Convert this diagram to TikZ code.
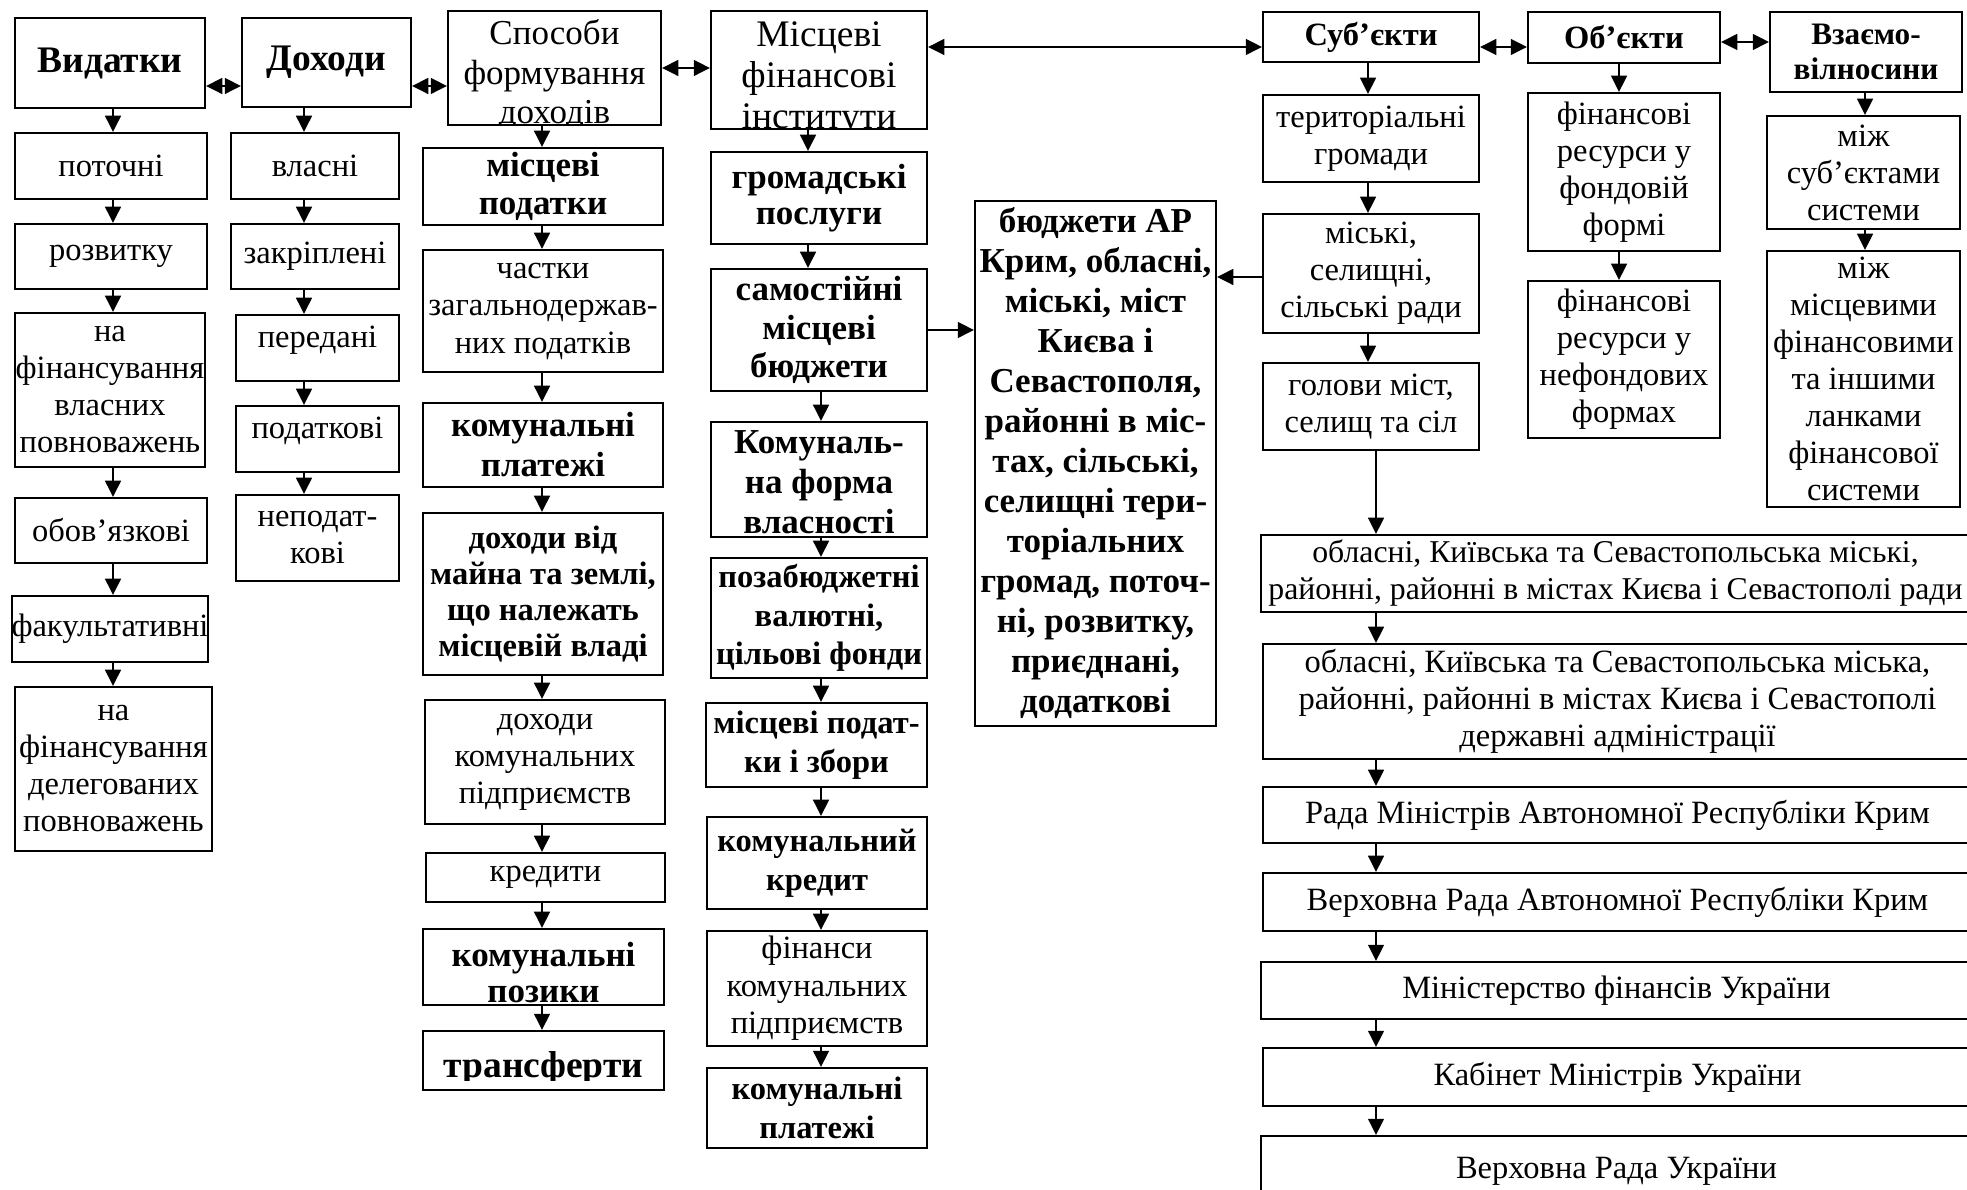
\documentclass[tikz,border=0pt]{standalone}
\usepackage{fontspec}
\setmainfont{Liberation Serif}
\usetikzlibrary{arrows.meta}

\begin{document}
\begin{tikzpicture}[x=0.4pt, y=-0.4pt, >={Triangle[length=6.5pt,width=6.3pt]},
	box/.style={draw, thick, inner sep=0pt, align=center, font=\fontsize{13}{14.8}\selectfont},
	wh/.style 2 args={minimum width={#1*0.4pt}, minimum height={#2*0.4pt}},
	rg/.style 2 args={font=\fontsize{#1}{#2}\selectfont},
	bd/.style 2 args={font=\fontsize{#1}{#2}\selectfont\bfseries},
	ptext/.style={inner sep=0pt, minimum width=0pt, minimum height=0pt, align=center},
	onebase/.style={text height=0pt, text depth=0pt}]
	\useasboundingbox (0,0) rectangle (1967,1190);
	\clip (0,0) rectangle (1967,1190);

	% arrow columns and rows
	\coordinate (k1) at (113,0);
	\coordinate (k2) at (304,0);
	\coordinate (k3) at (542,0);
	\coordinate (k4a) at (808,0);
	\coordinate (k4) at (821,0);
	\coordinate (k6) at (1368,0);
	\coordinate (k6b) at (1376,0);
	\coordinate (k7) at (1619,0);
	\coordinate (k8) at (1865,0);
	\coordinate (yd) at (0,86);
	\coordinate (ys) at (0,47);
	\coordinate (yv) at (0,42);
	\coordinate (yr) at (0,277);

	% expenditures
	\node[box, wh={190}{90}, bd={15}{17}] (vyd) at (110,63) {Видатки};
	\node[box, wh={192}{66}] (potochni) at (111,166) {поточні};
	\node[box, wh={192}{65}] (rozv) at (111,256.5) {розвитку};
	\node[box, wh={190}{154}] (vlpov) at (110,390) {на\\фінансування\\власних\\повноважень};
	\node[box, wh={192}{65}] (oboviaz) at (111,530.5) {обов’язкові};
	\node[box, wh={190}{66}] (fakult) at (110,629) {факультативні};
	\node[box, wh={197}{164}] (delpov) at (113.5,769) {на\\фінансування\\делегованих\\повноважень};

	% revenues
	\node[box, wh={169}{89}, bd={15}{17}] (dokh) at (326.5,62.5) {Доходи};
	\node[box, wh={168}{66}] (vlasni) at (315,166) {власні};
	\node[box, wh={168}{65}] (zakrip) at (315,256.5) {закріплені};
	\node[box, wh={163}{66}, onebase] (peredani) at (317.5,348) {передані};
	\node[box, wh={163}{66}, onebase] (podatk) at (317.5,439) {податкові};
	\node[box, wh={163}{86}] (nepodatk) at (317.5,538) {неподат-\\кові};

	% ways of forming revenues
	\node[box, wh={213}{114}, path picture={\node[ptext, rg={14}{15.8}] at ([yshift=-2.9pt]path picture bounding box.center) {Способи\\формування\\доходів};}] (sposoby) at (554.5,68) {};
	\node[box, wh={240}{77}, bd={14}{15.3}] (mpod) at (543,186.5) {місцеві\\податки};
	\node[box, wh={240}{122}, rg={13}{15}] (chastky) at (543,311) {частки\\загальнодержав-\\них податків};
	\node[box, wh={240}{84}, bd={14}{16}] (kplat) at (543,445) {комунальні\\платежі};
	\node[box, wh={240}{162}, bd={13}{14.5}] (maino) at (543,594) {доходи від\\майна та землі,\\що належать\\місцевій владі};
	\node[box, wh={240}{124}] (dkp) at (545,762) {доходи\\комунальних\\підприємств};
	\node[box, wh={239}{49}] (kred) at (545.5,877.5) {кредити};
	\node[box, wh={241}{76}, path picture={\node[ptext, bd={14}{14.4}] at ([yshift=-2.4pt]path picture bounding box.center) {комунальні\\позики};}] (pozyky) at (543.5,967) {};
	\node[box, wh={241}{59}, path picture={\clip (path picture bounding box.north west) rectangle ([yshift=4pt]path picture bounding box.south east);
		\node[ptext, bd={15}{17}] at ([yshift=-3.1pt]path picture bounding box.center) {трансферти};}] (transf) at (543.5,1060.5) {};

	% local financial institutions
	\node[box, wh={216}{118}, path picture={\node[ptext, rg={15}{16.5}] at ([yshift=-3.75pt]path picture bounding box.center) {Місцеві\\фінансові\\інститути};}] (misfin) at (819,70) {};
	\node[box, wh={216}{92}, bd={14}{14.5}] (hrom) at (819,198) {громадські\\послуги};
	\node[box, wh={216}{122}, bd={14}{15.3}] (samost) at (819,330) {самостійні\\місцеві\\бюджети};
	\node[box, wh={216}{115}, path picture={\node[ptext, bd={14}{16}] at ([yshift=-1.2pt]path picture bounding box.center) {Комуналь-\\на форма\\власності};}] (komform) at (819,479.5) {};
	\node[box, wh={216}{120}, bd={13}{15.5}] (pozab) at (819,618) {позабюджетні\\валютні,\\цільові фонди};
	\node[box, wh={221}{84}, bd={13}{15.5}] (mpz) at (816.5,745) {місцеві подат-\\ки і збори};
	\node[box, wh={220}{92}, bd={13}{15.5}] (kkred) at (817,863) {комунальний\\кредит};
	\node[box, wh={220}{115}, rg={13}{15}] (fkp) at (817,988.5) {фінанси\\комунальних\\підприємств};
	\node[box, wh={220}{80}, bd={13}{15.5}] (kplat2) at (817,1108) {комунальні\\платежі};

	% budgets
	\node[box, wh={241}{525}, bd={14}{16}] (budzh) at (1095.5,463.5) {бюджети АР\\Крим, обласні,\\міські, міст\\Києва і\\Севастополя,\\районні в міс-\\тах, сільські,\\селищні тери-\\торіальних\\громад, поточ-\\ні, розвитку,\\приєднані,\\додаткові};

	% subjects, objects, relations
	\node[box, wh={216}{50}, bd={13}{15}] (subj) at (1371,37) {Суб’єкти};
	\node[box, wh={216}{87}] (terhrom) at (1371,138.5) {територіальні\\громади};
	\node[box, wh={216}{119}] (miskrady) at (1371,273.5) {міські,\\селищні,\\сільські ради};
	\node[box, wh={216}{87}] (holovy) at (1371,406.5) {голови міст,\\селищ та сіл};
	\node[box, wh={192}{51}, bd={13}{15}] (obj) at (1624,37.5) {Об’єкти};
	\node[box, wh={192}{158}] (fond) at (1624,172) {фінансові\\ресурси у\\фондовій\\формі};
	\node[box, wh={192}{157}] (nefond) at (1624,359.5) {фінансові\\ресурси у\\нефондових\\формах};
	\node[box, wh={192}{80}, bd={12.5}{13.8}] (vzaiem) at (1866,52) {Взаємо-\\вілносини};
	\node[box, wh={193}{113}] (mizhsub) at (1863.5,172.5) {між\\суб’єктами\\системи};
	\node[box, wh={193}{256}] (mizhmis) at (1863.5,379) {між\\місцевими\\фінансовими\\та іншими\\ланками\\фінансової\\системи};

	% authorities
	\node[box, wh={709}{77}, rg={12.7}{14.8}] (oblrady) at (1615.5,573.5) {обласні, Київська та Севастопольська міські,\\районні, районні в містах Києва і Севастополі ради};
	\node[box, wh={709}{115}] (obladm) at (1617.5,701.5) {обласні, Київська та Севастопольська міська,\\районні, районні в містах Києва і Севастополі\\державні адміністрації};
	\node[box, wh={709}{56}] (radamin) at (1617.5,815) {Рада Міністрів Автономної Республіки Крим};
	\node[box, wh={709}{58}] (vrark) at (1617.5,902) {Верховна Рада Автономної Республіки Крим};
	\node[box, wh={711}{57}] (minfin) at (1616.5,990.5) {Міністерство фінансів України};
	\node[box, wh={709}{58}] (kabmin) at (1617.5,1077) {Кабінет Міністрів України};
	\node[box, wh={711}{70}] (vru) at (1616.5,1171) {Верховна Рада України};

	% horizontal links
	\draw[<->, thick] (vyd.east |- yd) -- (dokh.west |- yd);
	\draw[<->, thick] (dokh.east |- yd) -- (sposoby.west |- yd);
	\draw[<->, thick] (sposoby.east) -- (sposoby.east -| misfin.west);
	\draw[<->, thick] (misfin.east |- ys) -- (subj.west |- ys);
	\draw[<->, thick] (subj.east |- ys) -- (obj.west |- ys);
	\draw[<->, thick] (obj.east |- yv) -- (vzaiem.west |- yv);
	\draw[->, thick] (samost.east) -- (samost.east -| budzh.west);
	\draw[->, thick] (miskrady.west |- yr) -- (budzh.east |- yr);

	% expenditures column
	\draw[->, thick] (vyd.south -| k1) -- (potochni.north -| k1);
	\draw[->, thick] (potochni.south -| k1) -- (rozv.north -| k1);
	\draw[->, thick] (rozv.south -| k1) -- (vlpov.north -| k1);
	\draw[->, thick] (vlpov.south -| k1) -- (oboviaz.north -| k1);
	\draw[->, thick] (oboviaz.south -| k1) -- (fakult.north -| k1);
	\draw[->, thick] (fakult.south -| k1) -- (delpov.north -| k1);

	% revenues column
	\draw[->, thick] (dokh.south -| k2) -- (vlasni.north -| k2);
	\draw[->, thick] (vlasni.south -| k2) -- (zakrip.north -| k2);
	\draw[->, thick] (zakrip.south -| k2) -- (peredani.north -| k2);
	\draw[->, thick] (peredani.south -| k2) -- (podatk.north -| k2);
	\draw[->, thick] (podatk.south -| k2) -- (nepodatk.north -| k2);

	% ways column
	\draw[->, thick] (sposoby.south -| k3) -- (mpod.north -| k3);
	\draw[->, thick] (mpod.south -| k3) -- (chastky.north -| k3);
	\draw[->, thick] (chastky.south -| k3) -- (kplat.north -| k3);
	\draw[->, thick] (kplat.south -| k3) -- (maino.north -| k3);
	\draw[->, thick] (maino.south -| k3) -- (dkp.north -| k3);
	\draw[->, thick] (dkp.south -| k3) -- (kred.north -| k3);
	\draw[->, thick] (kred.south -| k3) -- (pozyky.north -| k3);
	\draw[->, thick] (pozyky.south -| k3) -- (transf.north -| k3);

	% institutions column
	\draw[->, thick] (misfin.south -| k4a) -- (hrom.north -| k4a);
	\draw[->, thick] (hrom.south -| k4a) -- (samost.north -| k4a);
	\draw[->, thick] (samost.south -| k4) -- (komform.north -| k4);
	\draw[->, thick] (komform.south -| k4) -- (pozab.north -| k4);
	\draw[->, thick] (pozab.south -| k4) -- (mpz.north -| k4);
	\draw[->, thick] (mpz.south -| k4) -- (kkred.north -| k4);
	\draw[->, thick] (kkred.south -| k4) -- (fkp.north -| k4);
	\draw[->, thick] (fkp.south -| k4) -- (kplat2.north -| k4);

	% subjects column
	\draw[->, thick] (subj.south -| k6) -- (terhrom.north -| k6);
	\draw[->, thick] (terhrom.south -| k6) -- (miskrady.north -| k6);
	\draw[->, thick] (miskrady.south -| k6) -- (holovy.north -| k6);
	\draw[->, thick] (holovy.south -| k6b) -- (oblrady.north -| k6b);
	\draw[->, thick] (oblrady.south -| k6b) -- (obladm.north -| k6b);
	\draw[->, thick] (obladm.south -| k6b) -- (radamin.north -| k6b);
	\draw[->, thick] (radamin.south -| k6b) -- (vrark.north -| k6b);
	\draw[->, thick] (vrark.south -| k6b) -- (minfin.north -| k6b);
	\draw[->, thick] (minfin.south -| k6b) -- (kabmin.north -| k6b);
	\draw[->, thick] (kabmin.south -| k6b) -- (vru.north -| k6b);

	% objects and relations columns
	\draw[->, thick] (obj.south -| k7) -- (fond.north -| k7);
	\draw[->, thick] (fond.south -| k7) -- (nefond.north -| k7);
	\draw[->, thick] (vzaiem.south -| k8) -- (mizhsub.north -| k8);
	\draw[->, thick] (mizhsub.south -| k8) -- (mizhmis.north -| k8);
\end{tikzpicture}
\end{document}
